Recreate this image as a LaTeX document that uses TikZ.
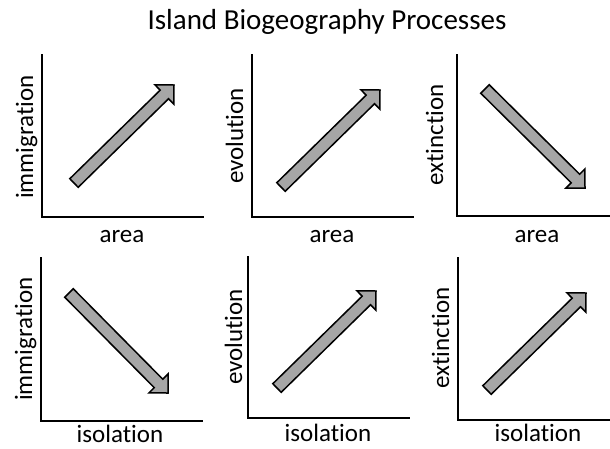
\documentclass[tikz,border=0pt]{standalone}
\usepackage{fontspec}
\setmainfont{Carlito}[Ligatures=NoCommon]
\usepackage{tikz}
\usetikzlibrary{calc}

\definecolor{arrowgray}{HTML}{A6A6A6}

% block arrow from tail #1 to tip #2
\newcommand{\trendarrow}[2]{%
  \coordinate (#1neck) at ($(#2)!13.5pt!(#1)$);
  \draw[trend] ($(#1)!6pt!90:(#2)$) -- ($(#1neck)!6pt!-90:(#1)$)
    -- ($(#1neck)!13.5pt!-90:(#1)$) -- (#2)
    -- ($(#1neck)!13.5pt!90:(#1)$) -- ($(#1neck)!6pt!90:(#1)$)
    -- ($(#1)!6pt!-90:(#2)$) -- cycle;
}

\begin{document}
\begin{tikzpicture}[
    x=1pt, y=-1pt,
    title/.style = {anchor=base, font=\fontsize{29}{34}\selectfont},
    xlab/.style  = {anchor=base, inner sep=0pt, font=\fontsize{25}{30}\selectfont},
    ylab/.style  = {anchor=base, rotate=90, inner sep=0pt, font=\fontsize{25}{30}\selectfont},
    axis/.style  = {line width=1.8pt, line cap=rect},
    trend/.style = {draw, line width=1.5pt, fill=arrowgray, line join=miter},
]
\useasboundingbox (0,0) rectangle (610,448);

%% ── Title ───────────────────────────────────────────────────────────────────
\node[title] (title) at (327,29) {Island Biogeography Processes};

%% ── Top row: area ───────────────────────────────────────────────────────────
\coordinate (top1) at (42,55);  \coordinate (o1) at (42,217);  \coordinate (end1) at (203,217);
\coordinate (top2) at (252,55); \coordinate (o2) at (252,217); \coordinate (end2) at (413,217);
\coordinate (top3) at (457,55); \coordinate (o3) at (457,216); \coordinate (end3) at (610,216);

\draw[axis] (top1) -- (o1) -- (end1);
\draw[axis] (top2) -- (o2) -- (end2);
\draw[axis] (top3) -- (o3) -- (end3);

\node[ylab] (imm1) at (33,137)  {immigration};
\node[ylab] (evo1) at (243,136) {evolution};
\node[ylab] (ext1) at (443,135) {extinction};
\node[xlab] (area1) at (122,242) {area};
\node[xlab] (area2) at (332,242) {area};
\node[xlab] (area3) at (537,242) {area};

\coordinate (tailA) at (74,183);  \coordinate (tipA) at (174,85);
\coordinate (tailB) at (281,187); \coordinate (tipB) at (380,90);
\coordinate (tailC) at (485,89);  \coordinate (tipC) at (585,188);
\trendarrow{tailA}{tipA}
\trendarrow{tailB}{tipB}
\trendarrow{tailC}{tipC}

%% ── Bottom row: isolation ───────────────────────────────────────────────────
\coordinate (top4) at (41,258);  \coordinate (o4) at (41,421);  \coordinate (end4) at (202,421);
\coordinate (top5) at (248,257); \coordinate (o5) at (248,418); \coordinate (end5) at (409,418);
\coordinate (top6) at (458,258); \coordinate (o6) at (458,420); \coordinate (end6) at (610,420);

\draw[axis] (top4) -- (o4) -- (end4);
\draw[axis] (top5) -- (o5) -- (end5);
\draw[axis] (top6) -- (o6) -- (end6);

\node[ylab] (imm2) at (32,339)  {immigration};
\node[ylab] (evo2) at (242,337) {evolution};
\node[ylab] (ext2) at (449,338) {extinction};
\node[xlab] (iso1) at (120,442) {isolation};
\node[xlab] (iso2) at (328,441) {isolation};
\node[xlab] (iso3) at (538,441) {isolation};

\coordinate (tailD) at (69,293);  \coordinate (tipD) at (168,393);
\coordinate (tailE) at (277,388); \coordinate (tipE) at (376,291);
\coordinate (tailF) at (487,390); \coordinate (tipF) at (586,293);
\trendarrow{tailD}{tipD}
\trendarrow{tailE}{tipE}
\trendarrow{tailF}{tipF}

\end{tikzpicture}
\end{document}
